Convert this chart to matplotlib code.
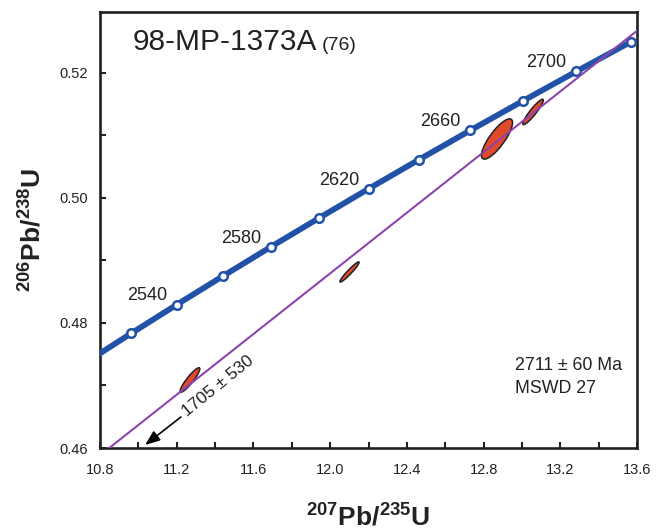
import numpy as np
import matplotlib
matplotlib.use("Agg")
import matplotlib.pyplot as plt
from matplotlib.patches import Ellipse
from matplotlib.ticker import MultipleLocator

plt.rcParams["font.family"] = ["Liberation Sans", "DejaVu Sans"]
plt.rcParams["mathtext.fontset"] = "custom"
plt.rcParams["mathtext.rm"] = "Liberation Sans"
plt.rcParams["mathtext.bf"] = "Liberation Sans:bold"

# ---------------------------------------------------------------------------
# Data
# ---------------------------------------------------------------------------

# concordia ages (Ma) and their ratios
conc_age = [2500, 2520, 2540, 2560, 2580, 2600, 2620, 2640, 2660, 2680, 2700, 2720]
conc_x = [10.7297, 10.9630, 11.2010, 11.4437, 11.6912, 11.9437, 12.2012,
          12.4638, 12.7316, 13.0048, 13.2834, 13.5675]
conc_y = [0.47375, 0.47833, 0.48293, 0.48753, 0.49216, 0.49679, 0.50145,
          0.50611, 0.51079, 0.51548, 0.52019, 0.52492]
labelled_ages = [2540, 2580, 2620, 2660, 2700]

# discordia: lower / upper intercepts (207Pb/235U, 206Pb/238U)
lower_icpt = (4.3611, 0.30277)
upper_icpt = (13.4389, 0.52279)

# error ellipses: centre, x and y half extents, correlation
ell_x = [12.870, 13.058, 12.101, 11.269]
ell_y = [0.5094, 0.51372, 0.48814, 0.47087]
ell_ex = [0.0810, 0.0535, 0.050, 0.0515]
ell_ey = [0.00322, 0.00203, 0.00161, 0.00196]
ell_rho = [0.81, 0.925, 0.955, 0.91]

sample_name = "98-MP-1373A"
sample_n = "(76)"
age_text = "2711 \u00b1 60 Ma"
mswd_text = "MSWD 27"
lower_text = "1705 \u00b1 530"

BLUE = "#2152a8"
PURPLE = "#8e44ad"
ORANGE = "#e0492a"

# ---------------------------------------------------------------------------
# Plot
# ---------------------------------------------------------------------------

fig = plt.figure(figsize=(6.63, 5.31), dpi=100)
ax = fig.add_axes([100 / 663, 83 / 531, 537 / 663, 436 / 531])

ax.set_xlim(10.8, 13.6)
ax.set_ylim(0.46, 0.5297)

# error ellipses
for cx, cy, ex, ey, rho in zip(ell_x, ell_y, ell_ex, ell_ey, ell_rho):
    cov = np.array([[ex**2, rho * ex * ey], [rho * ex * ey, ey**2]])
    vals, vecs = np.linalg.eigh(cov)
    major = vecs[:, 1]
    angle = np.degrees(np.arctan2(major[1], major[0]))
    e = Ellipse((cx, cy), 2 * np.sqrt(vals[1]), 2 * np.sqrt(vals[0]),
                angle=angle, facecolor=ORANGE, edgecolor="#222222",
                linewidth=1.1, zorder=2)
    ax.add_patch(e)

# concordia
ax.plot(conc_x, conc_y, color=BLUE, linewidth=4.2, zorder=3,
        solid_capstyle="butt")
ax.plot(conc_x[1:], conc_y[1:], "o", markersize=6.2, markerfacecolor="white",
        markeredgecolor=BLUE, markeredgewidth=1.8, zorder=3.5)

for age, x, y in zip(conc_age, conc_x, conc_y):
    if age in labelled_ages:
        ax.annotate(str(age), (x, y), xytext=(-7, 3), textcoords="offset points",
                    ha="right", va="baseline", fontsize=13, color="#222222")

# discordia
ax.axline(lower_icpt, upper_icpt, color=PURPLE, linewidth=1.5, zorder=4)

# lower intercept label and arrow
ax.text(11.415, 0.4699, lower_text, rotation=39, ha="center", va="center",
        fontsize=12.5, color="#222222", rotation_mode="anchor")
ax.annotate("", xy=(11.035, 0.46048), xytext=(11.222, 0.46496),
            arrowprops=dict(arrowstyle="-|>,head_length=0.9,head_width=0.35",
                            color="black", linewidth=1.2, shrinkA=0, shrinkB=0))

# titles and stats
ax.text(0.061, 0.913, sample_name, transform=ax.transAxes, fontsize=21.5,
        va="baseline", ha="left", color="#222222")
ax.text(0.413, 0.913, sample_n, transform=ax.transAxes, fontsize=14,
        va="baseline", ha="left", color="#222222")
ax.text(0.773, 0.190, age_text, transform=ax.transAxes, fontsize=12.8,
        va="center", ha="left", color="#222222")
ax.text(0.773, 0.137, mswd_text, transform=ax.transAxes, fontsize=12.8,
        va="center", ha="left", color="#222222")

# axes styling
ax.xaxis.set_major_locator(MultipleLocator(0.4))
ax.xaxis.set_minor_locator(MultipleLocator(0.2))
ax.yaxis.set_major_locator(MultipleLocator(0.02))
ax.yaxis.set_minor_locator(MultipleLocator(0.01))
ax.xaxis.set_major_formatter(matplotlib.ticker.FormatStrFormatter("%.1f"))
ax.yaxis.set_major_formatter(matplotlib.ticker.FormatStrFormatter("%.2f"))

ax.tick_params(which="both", direction="in", length=4.5, width=1.5,
               top=False, right=False, colors="#222222")
ax.tick_params(axis="x", which="major", pad=11, labelsize=10.5)
ax.tick_params(axis="y", which="major", pad=9, labelsize=10.5)
for sp in ax.spines.values():
    sp.set_linewidth(1.9)
    sp.set_color("#222222")

ax.set_xlabel(r"$\mathbf{^{207}Pb/^{235}U}$", fontsize=19, labelpad=19,
              color="#222222")
ax.set_ylabel(r"$\mathbf{^{206}Pb/^{238}U}$", fontsize=19, labelpad=9,
              color="#222222")

fig.savefig("out.png", dpi=100)
